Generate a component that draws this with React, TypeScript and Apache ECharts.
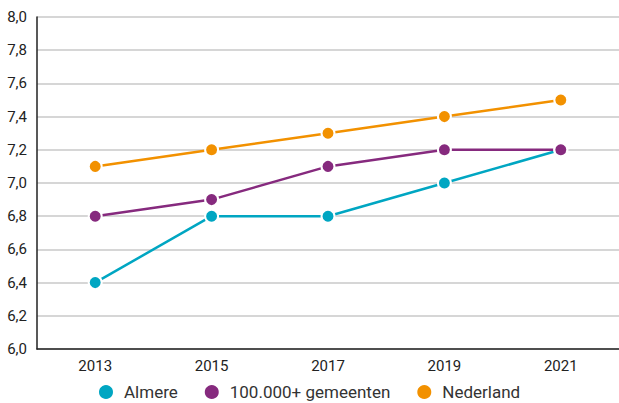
import React, { useEffect, useRef } from "react";
import * as echarts from "echarts";

const years = ["2013", "2015", "2017", "2019", "2021"];
const almere = [6.4, 6.8, 6.8, 7.0, 7.2];
const gemeenten = [6.8, 6.9, 7.1, 7.2, 7.2];
const nederland = [7.1, 7.2, 7.3, 7.4, 7.5];
const seriesNames = ["Almere", "100.000+ gemeenten", "Nederland"];
const colors = ["#00A6C2", "#862A7E", "#F29100"];

const FONT = "Roboto, 'DejaVu Sans', sans-serif";

export default function App() {
  const ref = useRef<HTMLDivElement>(null);
  useEffect(() => {
    if (!ref.current) return;
    const chart = echarts.init(ref.current, null, { renderer: "svg" });
    const mk = (name: string, data: number[], color: string) => ({
      name,
      type: "line",
      data,
      symbol: "circle",
      symbolSize: 13,
      lineStyle: { color, width: 2.5 },
      itemStyle: { color, borderColor: "#ffffff", borderWidth: 2 },
    });
    chart.setOption({
      animation: false,
      backgroundColor: "#ffffff",
      textStyle: { fontFamily: FONT },
      grid: { left: 37, top: 17, width: 584, height: 332, containLabel: false },
      legend: {
        top: 382,
        left: 97,
        padding: 0,
        itemGap: 25,
        icon: "circle",
        itemWidth: 16,
        itemHeight: 16,
        textStyle: {
          fontSize: 17,
          lineHeight: 20,
          color: "#333333",
          fontFamily: FONT,
          padding: [0, 0, 0, 5],
        },
        data: seriesNames,
      },
      xAxis: {
        type: "category",
        data: years,
        boundaryGap: true,
        axisLine: { lineStyle: { color: "#222222", width: 1.5 } },
        axisTick: { inside: true, length: 8, lineStyle: { color: "#222222", width: 1.5 } },
        axisLabel: { fontSize: 15, color: "#222222", margin: 9, fontFamily: FONT },
        splitLine: { show: false },
      },
      yAxis: {
        type: "value",
        min: 6.0,
        max: 8.0,
        interval: 0.2,
        axisLine: { show: true, lineStyle: { color: "#222222", width: 1.5 } },
        axisTick: { show: false },
        axisLabel: {
          fontSize: 15,
          color: "#222222",
          margin: 10,
          fontFamily: FONT,
          formatter: (v: number) => v.toFixed(1).replace(".", ","),
        },
        splitLine: { lineStyle: { color: "#c8c8c8", width: 1.5 } },
      },
      series: [
        mk(seriesNames[0], almere, colors[0]),
        mk(seriesNames[1], gemeenten, colors[1]),
        mk(seriesNames[2], nederland, colors[2]),
      ],
    });
    return () => chart.dispose();
  }, []);
  return (
    <div
      ref={ref}
      style={{ position: "fixed", left: 0, top: 0, width: 619, height: 403, background: "#fff" }}
    />
  );
}
